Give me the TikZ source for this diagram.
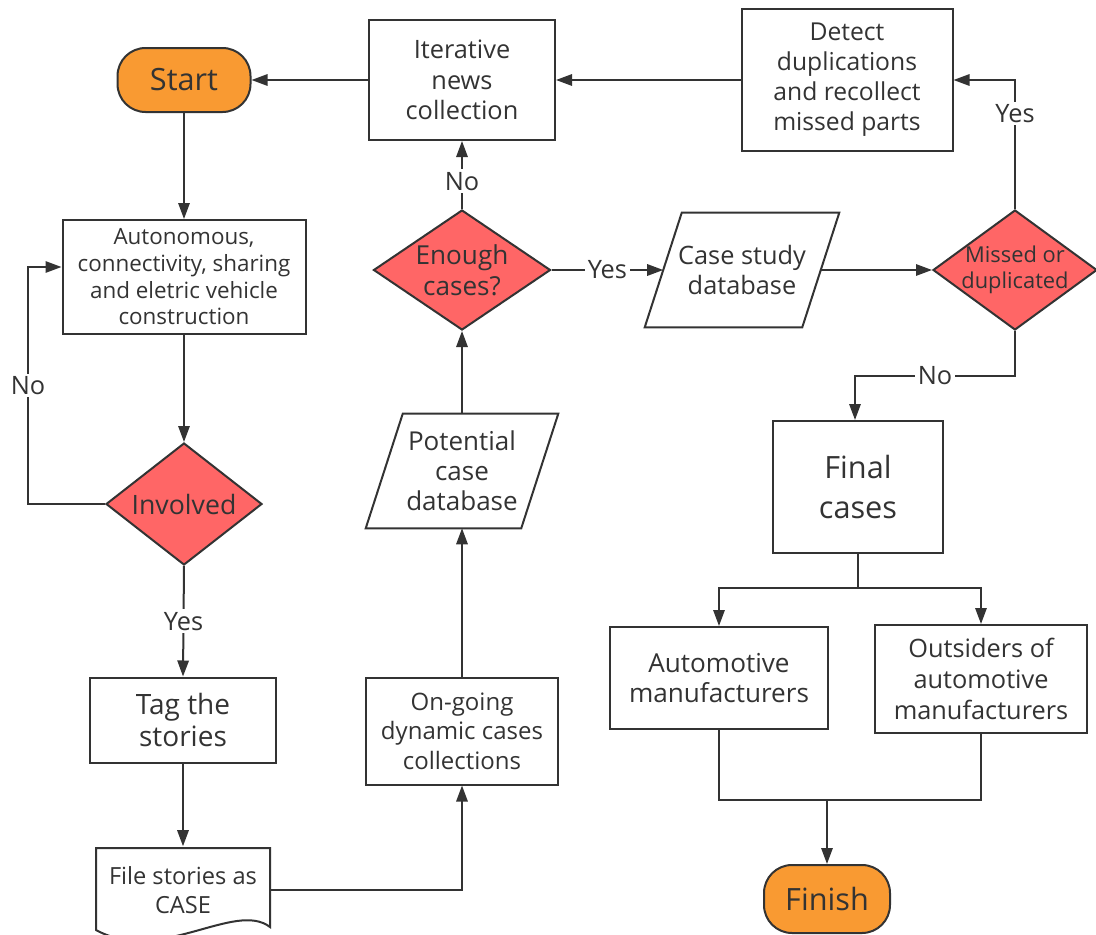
\documentclass[tikz,border=0pt]{standalone}
\usepackage{fontspec}
\setmainfont{Open Sans}
\usetikzlibrary{shapes.geometric,arrows.meta}
\definecolor{lineclr}{RGB}{51,51,51}
\definecolor{termorange}{RGB}{249,154,50}
\definecolor{decisred}{RGB}{255,102,102}
\newdimen\px \px=0.75pt

\tikzset{
  base/.style={draw=lineclr, line width=1.5pt, text=lineclr, align=center, inner sep=0pt},
  box/.style={base, rectangle, fill=white},
  term/.style={base, rectangle, rounded corners=28\px, fill=termorange, font=\fontsize{23}{28}\selectfont},
  decision/.style={base, diamond, fill=decisred},
  data/.style={text=lineclr, align=center, inner sep=0pt},
  link/.style={draw=lineclr, line width=1.5pt},
  arr/.style={link, -{Triangle[length=12pt,width=8.5pt]}},
  lbl/.style={fill=white, text=lineclr, inner sep=2pt, font=\fontsize{19}{23}\selectfont},
  fs/.style 2 args={font=\fontsize{#1}{#2}\selectfont}
}

\begin{document}
\begin{tikzpicture}[x=0.75pt, y=-0.75pt]

% Canvas
\useasboundingbox (0,0) rectangle (1096,935);

% Terminals
\node[term, minimum width=133\px, minimum height=64\px] (start) at (184,80) {Start};
\node[term, minimum width=126\px, minimum height=68\px] (finish) at (827,899) {Finish};

% Left column
\node[box, fs={16.8}{20}, minimum width=243\px, minimum height=114\px] (auto) at (184,277)
  {Autonomous,\\connectivity, sharing\\and eletric vehicle\\construction};
\node[decision, fs={20}{24}, aspect=1.28, minimum width=156\px, minimum height=122\px] (involved) at (184,504) {Involved};
\node[box, fs={21}{24}, minimum width=186\px, minimum height=85\px] (tag) at (183,720) {Tag the\\stories};
\node[fs={17.7}{21.5}, text=lineclr, align=center, minimum width=174\px, minimum height=87\px] (file) at (183,890)
  {File stories as\\CASE};
\draw[link] (96,848) -- (270,848) -- (270,927)
  .. controls (235,900) and (160,965) .. (96,930) -- cycle;

% Middle column
\node[box, fs={19}{23}, minimum width=186\px, minimum height=120\px] (iter) at (462,80) {Iterative\\news\\collection};
\node[decision, fs={19.6}{23}, aspect=1.47, minimum width=177\px, minimum height=120\px] (enough) at (462,270) {Enough\\cases?};
\node[data, fs={19.5}{22.5}, minimum width=155\px, minimum height=114\px] (potential) at (462,471)
  {Potential\\case\\database};
\node[box, fs={18}{22}, minimum width=192\px, minimum height=107\px] (ongoing) at (462,731)
  {On-going\\dynamic cases\\collections};

% Right part
\node[box, fs={18.5}{22.5}, minimum width=211\px, minimum height=142\px] (detect) at (847,80)
  {Detect\\duplications\\and recollect\\missed parts};
\node[data, fs={19}{23}, minimum width=157\px, minimum height=114\px] (case) at (742,270) {Case study\\database};
\node[decision, fs={16.4}{19.5}, aspect=1.37, inner sep=-4pt, minimum width=164\px, minimum height=120\px] (missed) at (1015,270)
  {Missed or\\duplicated};
\node[box, fs={23}{30}, minimum width=170\px, minimum height=132\px] (final) at (858,487) {Final\\cases};
\node[box, fs={19.6}{23}, minimum width=218\px, minimum height=102\px] (automaker) at (719,678)
  {Automotive\\manufacturers};
\node[box, fs={19}{23}, minimum width=212\px, minimum height=108\px] (outsiders) at (981,679)
  {Outsiders of\\automotive\\manufacturers};

% Parallelograms round the data nodes
\foreach \n in {potential,case}
  \draw[link] ([xshift=18.5\px]\n.north west) -- ([xshift=18.5\px]\n.north east)
    -- ([xshift=-18.5\px]\n.south east) -- ([xshift=-18.5\px]\n.south west) -- cycle;

% Helper points
\coordinate (noloop) at (28,267);
\coordinate (nocorner) at (1015,376);
\coordinate (split) at (858,588);
\coordinate (join) at (827,800);

% Connectors
\draw[arr] (iter.west) -- (start.east);
\draw[arr] (detect.west) -- (iter.east);
\draw[arr] (start.south) -- (auto.north);
\draw[arr] (auto.south) -- (involved.north);
\draw[arr] (involved.west) -| node[lbl, pos=0.75] {No} (noloop) -- (noloop -| auto.west);
\draw[arr] (involved.south) -- node[lbl] {Yes} (tag.north);
\draw[arr] (tag.south) -- (file.north);
\draw[arr] (file.east) -| (ongoing.south);
\draw[arr] (ongoing.north) -- (potential.south);
\draw[arr] (potential.north) -- (enough.south);
\draw[arr] (enough.north) -- node[lbl, pos=0.41] {No} (iter.south);
\draw[arr] (enough.east) -- node[lbl] {Yes} (case.west);
\draw[arr] (case.east) -- (missed.west);
\draw[arr] (missed.north) |- node[lbl, pos=0.37] {Yes} (detect.east);
\draw[arr] (missed.south) -- (nocorner) -| node[lbl, pos=0.25] {No} (final.north -| 855,0);
\draw[link] (final.south) -- (split);
\draw[arr] (split) -| (automaker.north);
\draw[arr] (split) -| (outsiders.north);
\draw[link] (automaker.south) |- (join);
\draw[link] (outsiders.south) |- (join);
\draw[arr] (join) -- (finish.north);

\end{tikzpicture}
\end{document}
